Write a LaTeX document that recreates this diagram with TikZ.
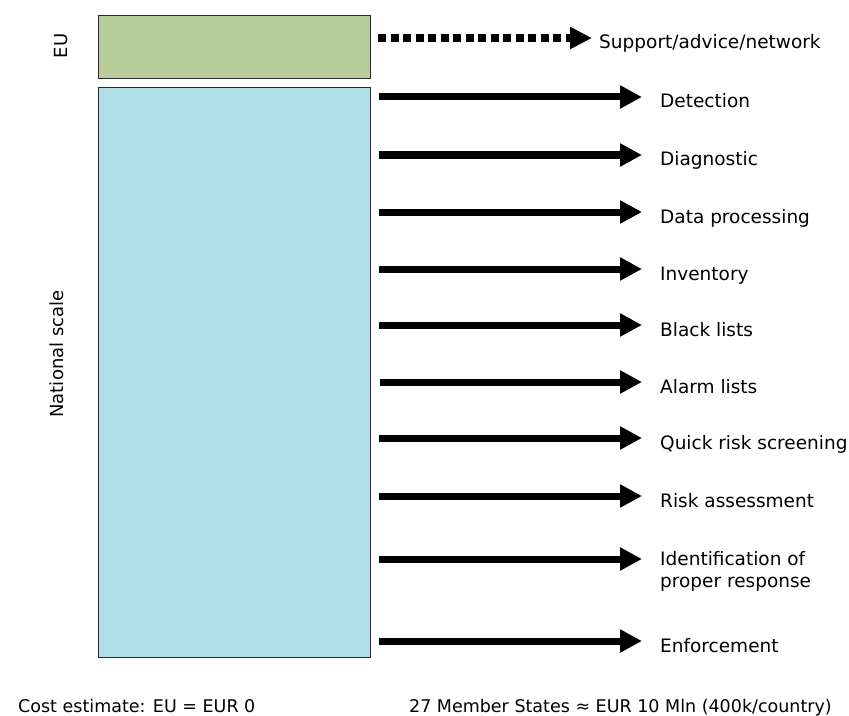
\documentclass[tikz,border=0pt]{standalone}
\usepackage{fontspec}
\setmainfont{DejaVu Sans}
\usetikzlibrary{arrows.meta}
\definecolor{eugreen}{RGB}{184,206,154}
\definecolor{natblue}{RGB}{176,223,233}
\definecolor{edgegray}{RGB}{40,40,40}
\begin{document}
\begin{tikzpicture}[x=1bp,y=-1bp,
  lab/.style={anchor=base west, inner sep=0pt, font=\fontsize{18.5bp}{22bp}\selectfont, align=left},
  foot/.style={anchor=base west, inner sep=0pt, font=\fontsize{17.5bp}{21bp}\selectfont},
  sidelab/.style={rotate=90, inner sep=0pt, font=\fontsize{18bp}{22bp}\selectfont},
  panel/.style={draw=edgegray, line width=1bp, anchor=north west, inner sep=0pt, minimum width=272bp},
  flow/.style={line width=7bp, -{Triangle[length=22bp,width=22bp]}, shorten >=18bp},
  support/.style={line width=8bp, dash pattern=on 8bp off 4.5bp, -{Triangle[length=22bp,width=21bp]}, shorten >=7bp}
]
\useasboundingbox (0,0) rectangle (849,716);
% panels
\node[panel, fill=eugreen, minimum height=63bp] (eu) at (98,15) {};
\node[panel, fill=natblue, minimum height=570bp] (nat) at (98,87) {};
% side labels
\node[sidelab] (eulab) at (61,46) {EU};
\node[sidelab] (natlab) at (57,354) {National scale};
% support arrow
\node[lab] (sup) at (599,49) {Support/advice/network};
\coordinate (s0) at (378,38);
\draw[support] (s0) -- (s0 -| sup.west);
% national arrows and labels
\node[lab] (l1) at (660,108) {Detection};
\node[lab] (l2) at (660,166) {Diagnostic};
\node[lab] (l3) at (660,223) {Data processing};
\node[lab] (l4) at (660,280) {Inventory};
\node[lab] (l5) at (660,336) {Black lists};
\node[lab] (l6) at (660,393) {Alarm lists};
\node[lab] (l7) at (660,449) {Quick risk screening};
\node[lab] (l8) at (660,507) {Risk assessment};
\node[lab, anchor=north west] (l9) at (660,551) {Identification of\\proper response};
\node[lab] (l10) at (660,652) {Enforcement};
\coordinate (a1) at (379,97);
\coordinate (a2) at (379,155);
\coordinate (a3) at (379,212);
\coordinate (a4) at (379,269);
\coordinate (a5) at (379,325);
\coordinate (a6) at (380,382);
\coordinate (a7) at (379,438);
\coordinate (a8) at (379,496);
\coordinate (a9) at (379,559);
\coordinate (a10) at (379,641);
\foreach \i in {1,...,10} {
  \draw[flow] (a\i) -- (a\i -| l\i.west);
}
% bottom texts
\node[foot] (cost) at (18,712) {Cost estimate: EU = EUR 0};
\node[foot, anchor=base east] (ms) at (832,712) {27 Member States ≈ EUR 10 Mln (400k/country)};
\end{tikzpicture}
\end{document}
